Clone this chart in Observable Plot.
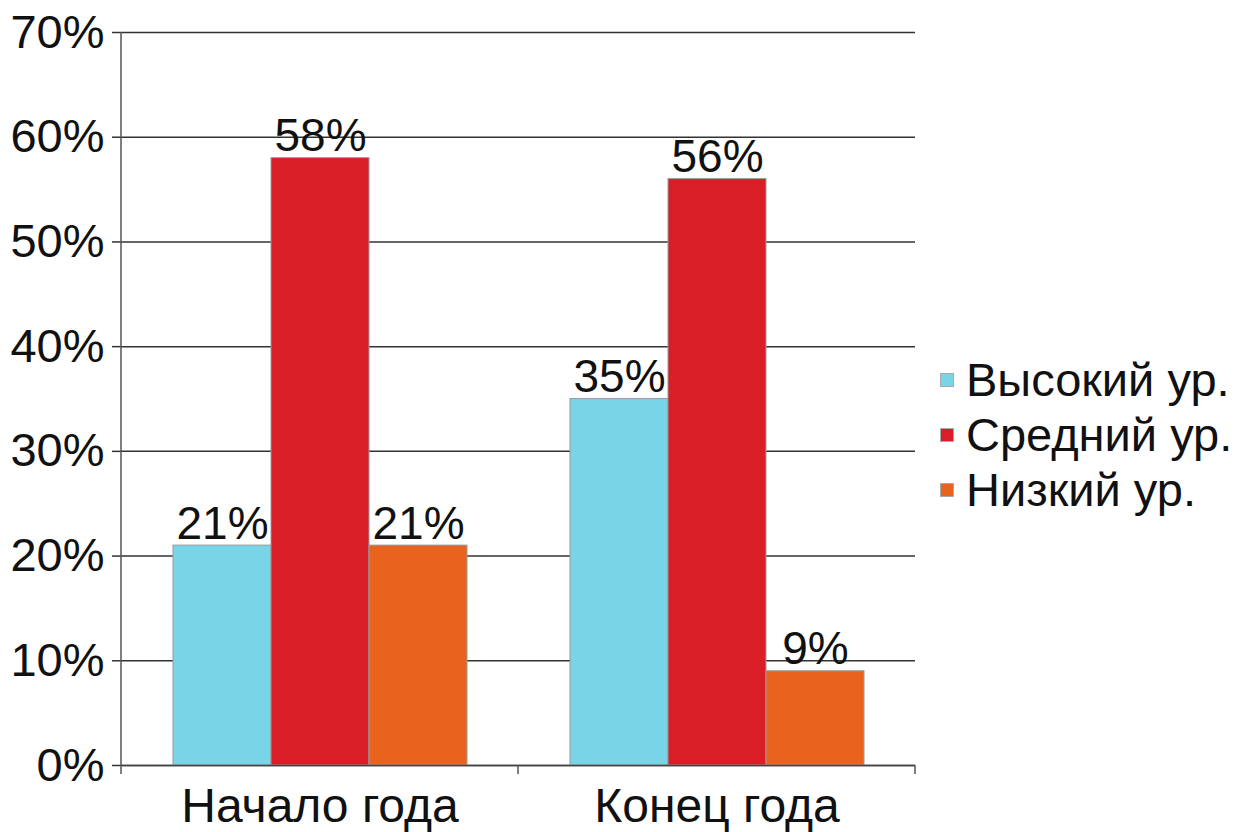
<!DOCTYPE html>
<html><head><meta charset="utf-8">
<script src="https://cdn.jsdelivr.net/npm/d3@7"></script>
<script src="https://cdn.jsdelivr.net/npm/@observablehq/plot@0.6"></script>
<style>
body{margin:0;background:#fff;font-family:"Liberation Sans",Arial,sans-serif;}
#wrap{position:relative;width:1242px;height:832px;}
#legend{position:absolute;left:940px;top:352px;font-size:47px;color:#111;line-height:55px;}
#legend div{display:flex;align-items:center;white-space:nowrap;}
#legend span.sw{display:inline-block;width:14px;height:14px;margin-right:12px;border:1px solid #aaa;box-sizing:border-box;}
</style></head>
<body><div id="wrap"><div id="chart"></div><div id="legend"></div></div>
<script>
const categories = ["Начало года", "Конец года"];
const series = ["Высокий ур.", "Средний ур.", "Низкий ур."];
const highValues = [0.21, 0.35];
const midValues = [0.58, 0.56];
const lowValues = [0.21, 0.09];
const colors = ["#78D5E8", "#D91E27", "#E8641E"];
const yTicks = [0, 0.1, 0.2, 0.3, 0.4, 0.5, 0.6, 0.7];

const seriesValues = [highValues, midValues, lowValues];
const data = [];
categories.forEach((c, i) => series.forEach((s, j) => data.push({cat: c, series: s, value: seriesValues[j][i]})));
const pct = d3.format(".0%");

const plot = Plot.plot({
  width: 930, height: 832,
  marginLeft: 120, marginRight: 15, marginTop: 32, marginBottom: 67,
  style: {fontFamily: "'Liberation Sans', Arial, sans-serif", fontSize: "46px", color: "#111", background: "white", overflow: "visible"},
  fx: {domain: categories, padding: 0, label: null},
  x: {domain: series, paddingInner: 0, paddingOuter: 0.51, axis: null},
  y: {domain: [0, 0.7], label: null},
  color: {domain: series, range: colors},
  marks: [
    Plot.gridY(yTicks, {stroke: "#333", strokeOpacity: 1, strokeWidth: 1.5}),
    Plot.axisY(yTicks, {tickSize: 9, tickPadding: 8, tickFormat: pct, stroke: "#333", strokeWidth: 1.5, fontSize: 47, label: null}),
    Plot.axisFx({anchor: "bottom", tickSize: 0, tickPadding: 22, fontSize: 48, label: null}),
    Plot.barY(data, {fx: "cat", x: "series", y: "value", fill: "series", stroke: "#9a9a9a", strokeWidth: 1}),
    Plot.text(data, {fx: "cat", x: "series", y: "value", text: d => pct(d.value), lineAnchor: "bottom", dy: -7, fontSize: 46, fill: "#111"}),
    Plot.ruleY([0], {stroke: "#444", strokeWidth: 1.5})
  ]
});

// axis line and category boundary ticks, positioned with the plot's scales
const fx = plot.scale("fx"), y = plot.scale("y");
const svg = d3.select(plot);
const left = fx.apply(categories[0]);
const bounds = categories.map(c => fx.apply(c));
bounds.push(fx.apply(categories[categories.length - 1]) + fx.bandwidth);
const y0 = y.apply(0), yTop = y.apply(0.7);
svg.append("line").attr("x1", left).attr("x2", left).attr("y1", yTop).attr("y2", y0).attr("stroke", "#555").attr("stroke-width", 1.5);
bounds.forEach(b => svg.append("line").attr("x1", b).attr("x2", b).attr("y1", y0).attr("y2", y0 + 9).attr("stroke", "#555").attr("stroke-width", 1.5));

document.getElementById("chart").appendChild(plot);

const legend = document.getElementById("legend");
series.forEach((s, i) => {
  const row = document.createElement("div");
  const sw = document.createElement("span");
  sw.className = "sw"; sw.style.background = colors[i];
  row.appendChild(sw);
  row.appendChild(document.createTextNode(s));
  legend.appendChild(row);
});
</script></body></html>
